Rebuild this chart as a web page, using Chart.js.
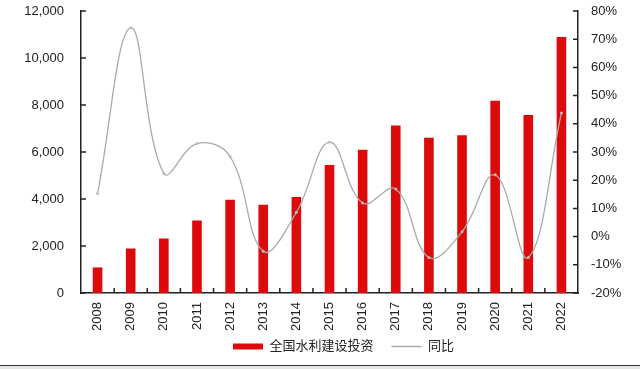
<!DOCTYPE html>
<html>
<head>
<meta charset="utf-8">
<script src="https://cdn.jsdelivr.net/npm/chart.js@4"></script>
<style>
  html, body { margin: 0; padding: 0; background: #fff; }
  #wrap { width: 640px; height: 365px; position: relative; }
  #pie { width: 640px; height: 4px; background: #e3e8e0; border-top: 1px solid #333; border-bottom: 1px solid #555; }
</style>
</head>
<body>
<div id="wrap"><canvas id="graph"></canvas></div>
<div id="pie"></div>
<script>
// años y datos (亿元 / %)
const years = ['2008', '2009', '2010', '2011', '2012', '2013', '2014', '2015',
    '2016', '2017', '2018', '2019', '2020', '2021', '2022'];
const inversion = [1088, 1894, 2320, 3086, 3964, 3758, 4083, 5452,
    6100, 7132, 6603, 6712, 8181, 7576, 10893];
const tasa = [15.3, 74.1, 22.5, 33.0, 28.4, -5.2, 8.6, 33.5,
    11.9, 16.9, -7.4, 1.7, 21.9, -7.4, 43.8];
const nombres = ['全国水利建设投资', '同比'];

const fuente = "Arial, 'Liberation Sans', 'Noto Sans CJK SC', sans-serif";
const padAbajo = -24;

// marcas de eje hacia dentro
const marcas = {
    id: 'marcas',
    afterLayout(chart) {
        // mover la leyenda debajo de las etiquetas
        const lg = chart.legend;
        if (!lg || !lg.lineWidths) return;
        const pad = 18;
        const h = lg.height;
        const cx = (lg.left + pad + lg.right - lg.lineWidths[0]) / 2;
        const dx = 233 - cx;
        lg.left += dx;
        lg.right += dx;
        lg.top = 340 - pad;
        lg.bottom = lg.top + h;
    },
    afterDraw(chart) {
        const ctx = chart.ctx;
        const area = chart.chartArea;
        ctx.save();
        ctx.strokeStyle = '#222';
        ctx.lineWidth = 1.5;
        ctx.beginPath();
        const yl = chart.scales.y;
        yl.ticks.forEach((t, i) => {
            const p = yl.getPixelForTick(i);
            ctx.moveTo(area.left, p);
            ctx.lineTo(area.left + 5, p);
        });
        const yr = chart.scales.y2;
        yr.ticks.forEach((t, i) => {
            const p = yr.getPixelForTick(i);
            ctx.moveTo(area.right, p);
            ctx.lineTo(area.right - 5, p);
        });
        const x = chart.scales.x;
        const paso = x.getPixelForValue(1) - x.getPixelForValue(0);
        for (let i = 1; i < years.length; i++) {
            const p = x.getPixelForValue(i) - paso / 2;
            ctx.moveTo(p, area.bottom);
            ctx.lineTo(p, area.bottom - 5);
        }
        ctx.stroke();
        ctx.restore();
    }
};

document.addEventListener('DOMContentLoaded', () => {
    const graph = document.querySelector('#graph');

    const dataset1 = {
        type: 'bar',
        label: nombres[0],
        data: inversion,
        backgroundColor: '#dc0a0a',
        barPercentage: 0.29,
        categoryPercentage: 1,
        yAxisID: 'y',
        order: 1
    };

    const dataset2 = {
        type: 'line',
        label: nombres[1],
        data: tasa,
        borderColor: '#aaaaaa',
        backgroundColor: '#bbbbbb',
        borderWidth: 1.3,
        pointRadius: 1.5,
        pointBorderWidth: 0,
        pointBackgroundColor: '#bbbbbb',
        tension: 0.4,
        fill: false,
        yAxisID: 'y2',
        order: 0
    };

    const config = {
        data: { labels: years, datasets: [dataset1, dataset2] },
        options: {
            responsive: true,
            maintainAspectRatio: false,
            animation: false,
            layout: { padding: { left: 0, right: 0, top: 11, bottom: padAbajo } },
            plugins: {
                tooltip: { enabled: false },
                legend: {
                    position: 'bottom',
                    labels: {
                        color: '#222',
                        font: { family: fuente, size: 13 },
                        usePointStyle: true,
                        pointStyleWidth: 30,
                        boxWidth: 30,
                        boxHeight: 6,
                        padding: 18,
                        sort: (a, b) => a.datasetIndex - b.datasetIndex,
                        generateLabels(chart) {
                            const items = Chart.defaults.plugins.legend.labels.generateLabels(chart);
                            items.forEach(it => {
                                if (it.datasetIndex === 0) {
                                    it.pointStyle = 'rect';
                                    it.lineWidth = 0;
                                } else {
                                    it.pointStyle = 'line';
                                    it.strokeStyle = '#aaaaaa';
                                    it.lineWidth = 1.3;
                                }
                            });
                            return items;
                        }
                    }
                }
            },
            scales: {
                x: {
                    grid: { display: false, drawTicks: false },
                    border: { display: true, color: '#222', width: 1.5 },
                    ticks: {
                        color: '#222',
                        font: { family: fuente, size: 13 },
                        minRotation: 90,
                        maxRotation: 90,
                        padding: 9
                    },
                    afterFit: s => { s.height = 72 - s.chart.legend.height - padAbajo; }
                },
                y: {
                    position: 'left',
                    min: 0,
                    max: 12000,
                    grid: { display: false, drawTicks: false },
                    border: { display: true, color: '#222', width: 1.5 },
                    ticks: {
                        stepSize: 2000,
                        color: '#222',
                        font: { family: fuente, size: 13 },
                        padding: 17
                    },
                    afterFit: s => { s.width = 81; s.paddingTop = 0; s.paddingBottom = 0; }
                },
                y2: {
                    position: 'right',
                    min: -20,
                    max: 80,
                    grid: { display: false, drawTicks: false },
                    border: { display: true, color: '#222', width: 1.5 },
                    ticks: {
                        stepSize: 10,
                        color: '#222',
                        font: { family: fuente, size: 13 },
                        padding: 13,
                        callback: v => v + '%'
                    },
                    afterFit: s => { s.width = 62; s.paddingTop = 0; s.paddingBottom = 0; }
                }
            }
        },
        plugins: [marcas]
    };

    new Chart(graph, config);
});
</script>
</body>
</html>
